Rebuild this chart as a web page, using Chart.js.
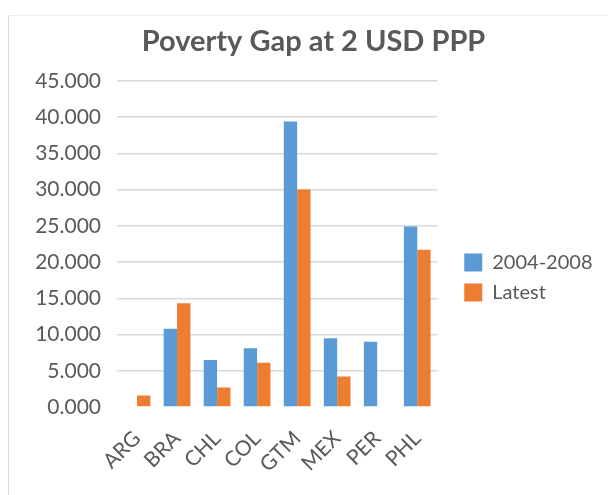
<!DOCTYPE html>
<html>
<head>
<meta charset="utf-8">
<script src="https://cdn.jsdelivr.net/npm/chart.js@4"></script>
<style>
  html, body { margin: 0; padding: 0; background: #fff; }
  #wrap { position: relative; width: 608px; height: 495px; }
  #frame { position: absolute; left: 8px; top: 15px; right: 0; bottom: 0;
           border-left: 1px solid #d9d9d9; border-top: 1px solid #eeeeee; }
  canvas { position: absolute; left: 0; top: 0; }
</style>
</head>
<body>
<div id="wrap">
  <div id="frame"></div>
  <canvas id="myChart" width="608" height="495"></canvas>
</div>
<script>
const categories = ["ARG", "BRA", "CHL", "COL", "GTM", "MEX", "PER", "PHL"];
const serie2004 = [null, 10.8, 6.5, 8.1, 39.4, 9.5, 9.0, 24.9];
const serieLatest = [1.6, 14.3, 2.7, 6.1, 30.0, 4.2, null, 21.7];
const seriesNames = ["2004-2008", "Latest"];
const yTicks = [0, 5, 10, 15, 20, 25, 30, 35, 40, 45];

const gris = "#595959";
const fuente = "Lato, 'Open Sans', sans-serif";

// mueve titulo y leyenda un poco a la derecha (como en Excel)
const correrCajas = {
  id: "correrCajas",
  afterLayout(chart) {
    chart.legend.left += 17;
    chart.legend.right += 17;
    chart.titleBlock.left += 22;
    chart.titleBlock.right += 22;
  },
};

const ctx = document.getElementById("myChart").getContext("2d");
const myChart = new Chart(ctx, {
  type: "bar",
  data: {
    labels: categories,
    datasets: [
      { label: seriesNames[0], data: serie2004, backgroundColor: "#5b9bd5",
        barPercentage: 1, categoryPercentage: 0.667 },
      { label: seriesNames[1], data: serieLatest, backgroundColor: "#ed7d31",
        barPercentage: 1, categoryPercentage: 0.667 },
    ],
  },
  plugins: [correrCajas],
  options: {
    responsive: false,
    animation: false,
    layout: { padding: { top: 0, left: 0, right: 25, bottom: 0 } },
    plugins: {
      title: {
        display: true,
        text: "Poverty Gap at 2 USD PPP",
        color: gris,
        font: { family: fuente, size: 29, weight: "bold" },
        padding: { top: 24, bottom: 22 },
      },
      legend: {
        position: "right",
        title: { display: true, text: "", font: { size: 10 }, padding: { top: 48, bottom: 0 } },
        labels: {
          color: gris,
          font: { family: fuente, size: 20 },
          boxWidth: 18,
          boxHeight: 18,
          padding: 10,
        },
      },
      tooltip: { enabled: false },
    },
    scales: {
      x: {
        afterFit: (scale) => {
          scale.height = 88;
        },
        grid: { display: false },
        border: { display: false },
        ticks: {
          color: gris,
          font: { family: fuente, size: 21 },
          autoSkip: false,
          minRotation: 45,
          maxRotation: 45,
          padding: 11,
        },
      },
      y: {
        min: yTicks[0],
        max: yTicks[yTicks.length - 1],
        afterBuildTicks: (scale) => {
          scale.ticks = yTicks.map((v) => ({ value: v }));
        },
        afterFit: (scale) => {
          scale.width = 117;
        },
        grid: {
          drawTicks: false,
          lineWidth: 1.5,
          color: (c) => (c.tick && c.tick.value === 0 ? "rgba(0,0,0,0)" : "#d9d9d9"),
        },
        border: { display: false },
        ticks: {
          color: gris,
          font: { family: fuente, size: 21 },
          padding: 16,
          callback: (v) => Number(v).toFixed(3),
        },
      },
    },
  },
});
</script>
</body>
</html>
